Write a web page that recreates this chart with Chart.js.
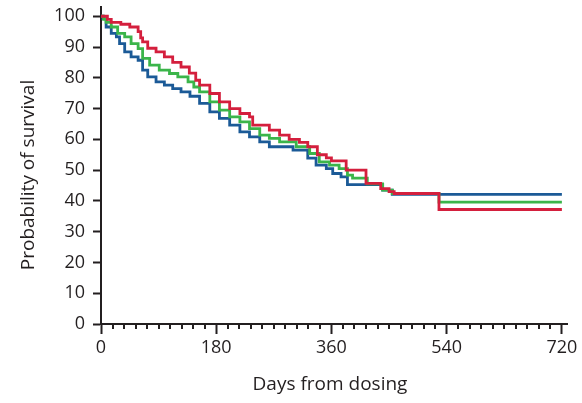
<!DOCTYPE html>
<html>
<head>
<meta charset="utf-8">
<script src="https://cdn.jsdelivr.net/npm/chart.js@4.4.1/dist/chart.umd.min.js"></script>
<style>
  html, body { margin: 0; padding: 0; background: #fff; }
</style>
</head>
<body>
<canvas id="km" width="582" height="403"></canvas>
<script>
// Survival curves (days, % surviving), step after each day
const redDays = [0, 10, 16, 31, 45, 58, 62, 65, 73, 86, 99, 112, 125, 138, 148, 154, 170, 185, 201, 217, 232, 237, 263, 279, 294, 310, 323, 338, 352, 360, 383, 414, 437, 450, 458, 528, 720];
const redSurv = [100, 99, 98, 97.4, 96.5, 95, 93, 91.7, 89.6, 88.4, 86.8, 85, 83.5, 81.5, 79.2, 77.6, 74.9, 72.2, 70, 68.4, 67.3, 64.6, 63, 61.4, 60, 59, 57.6, 55, 54, 53, 50, 45.7, 44, 43, 42.4, 37.2, 37.2];

const greenDays = [0, 4, 8, 16, 26, 37, 47, 58, 65, 76, 91, 107, 120, 136, 145, 154, 170, 185, 201, 217, 232, 248, 263, 279, 305, 326, 341, 357, 372, 385, 393, 416, 440, 455, 528, 720];
const greenSurv = [100, 99, 98, 96.5, 94.4, 93.3, 91.1, 89.5, 86.3, 84.1, 82.5, 81.4, 80.3, 78.7, 77, 75.4, 72.2, 69.5, 67.3, 65.7, 63.5, 61.4, 60.3, 59.2, 57.6, 55.4, 52.7, 51.6, 50.5, 48.4, 47.4, 45.5, 43.5, 42.4, 39.6, 39.6];

const blueDays = [0, 3, 8, 16, 24, 29, 37, 47, 58, 65, 73, 86, 99, 112, 125, 139, 154, 170, 185, 201, 217, 232, 248, 263, 300, 323, 336, 352, 362, 375, 385, 440, 455, 720];
const blueSurv = [100, 99.2, 96.5, 94.4, 93.3, 91.1, 88.4, 86.8, 85.7, 82.5, 80.3, 78.7, 77.6, 76.5, 75.4, 74, 71.7, 68.9, 66.8, 64.6, 62.4, 60.8, 59.2, 57.6, 56.5, 53.9, 51.6, 50.5, 48.9, 47.8, 45.3, 43.5, 42.1, 42.1];

// Axis ticks
const xMajorTicks = [0, 180, 360, 540, 720];
const xMinorStep = 18;
const yTicks = [0, 10, 20, 30, 40, 50, 60, 70, 80, 90, 100];

const INK = '#231f20';
const FONT = "'Open Sans', 'Noto Sans', sans-serif";

function toPoints(days, surv) {
    return days.map((d, i) => ({ x: d, y: surv[i] }));
}

function curve(days, surv, color) {
    return {
        data: toPoints(days, surv),
        borderColor: color,
        borderWidth: 2.8,
        stepped: true,
        pointRadius: 0,
        fill: false
    };
}

// minor ticks on the x axis and the two axis titles
const extras = {
    id: 'extras',
    afterDraw(chart) {
        const ctx = chart.ctx;
        const x = chart.scales.x;
        const bottom = chart.chartArea.bottom;
        ctx.save();
        ctx.strokeStyle = INK;
        ctx.lineWidth = 2;
        for (let d = xMinorStep; d < 720; d += xMinorStep) {
            if (xMajorTicks.includes(d)) continue;
            const px = Math.round(x.getPixelForValue(d));
            ctx.beginPath();
            ctx.moveTo(px, bottom);
            ctx.lineTo(px, bottom + 5);
            ctx.stroke();
        }

        ctx.fillStyle = INK;
        ctx.font = '19px ' + FONT;
        ctx.textAlign = 'center';
        ctx.textBaseline = 'alphabetic';
        ctx.fillText('Days from dosing', 330, 390);

        ctx.translate(34, 175);
        ctx.rotate(-Math.PI / 2);
        ctx.fillText('Probability of survival', 0, 0);
        ctx.restore();
    }
};

new Chart(document.getElementById('km'), {
    type: 'line',
    data: {
        datasets: [
            curve(redDays, redSurv, '#d41f3d'),
            curve(greenDays, greenSurv, '#3bb54a'),
            curve(blueDays, blueSurv, '#1b5a97')
        ]
    },
    options: {
        responsive: false,
        animation: false,
        layout: { padding: { top: 7, right: 15, left: 0, bottom: 0 } },
        plugins: { legend: { display: false }, tooltip: { enabled: false } },
        scales: {
            x: {
                type: 'linear',
                min: 0,
                max: 728,
                afterBuildTicks: axis => { axis.ticks = xMajorTicks.map(v => ({ value: v })); },
                afterFit: axis => { axis.height = 79; },
                ticks: { color: INK, font: { family: FONT, size: 18 }, padding: 3, maxRotation: 0 },
                grid: { drawOnChartArea: false, tickLength: 10, tickWidth: 2, tickColor: INK },
                border: { color: INK, width: 2 }
            },
            y: {
                min: 0,
                max: 103,
                afterBuildTicks: axis => { axis.ticks = yTicks.map(v => ({ value: v })); },
                afterFit: axis => { axis.width = 101; axis.paddingTop = 0; axis.paddingBottom = 0; },
                ticks: { color: INK, font: { family: FONT, size: 18, lineHeight: 0.5 }, padding: 8 },
                grid: { drawOnChartArea: false, tickLength: 8, tickWidth: 2, tickColor: INK },
                border: { color: INK, width: 2 }
            }
        }
    },
    plugins: [extras]
});
</script>
</body>
</html>
